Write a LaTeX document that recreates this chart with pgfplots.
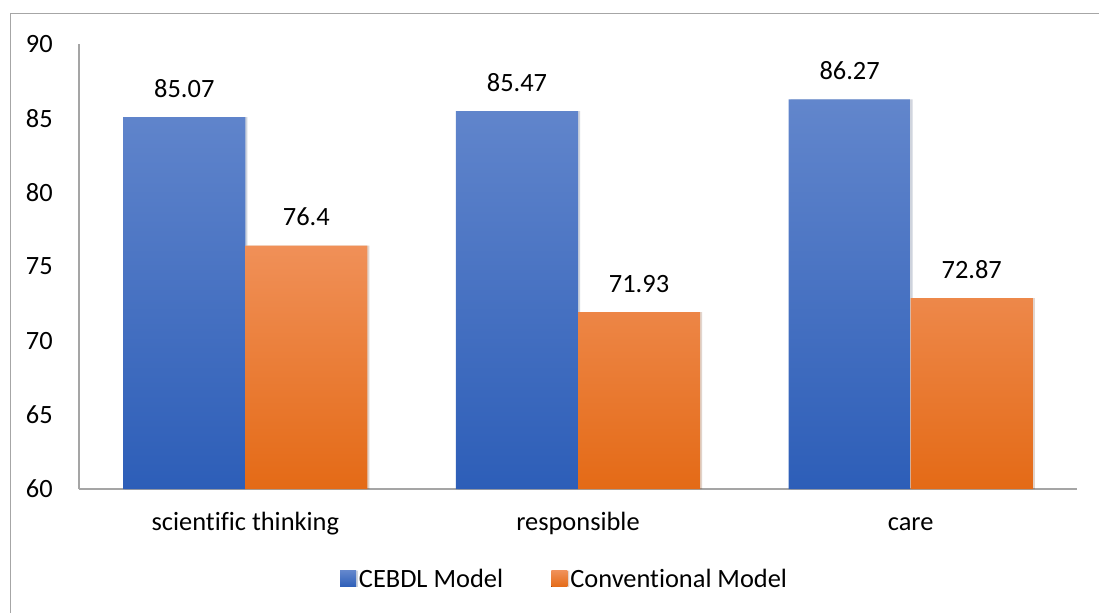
\documentclass[border=0pt]{standalone}
\usepackage{pgfplots}
\pgfplotsset{compat=1.18}
\usepackage{fontspec}
\setmainfont{Carlito}[Ligatures=CommonOff]
\definecolor{bluetop}{RGB}{98,134,204}
\definecolor{bluebot}{RGB}{45,94,184}
\definecolor{orgtop}{RGB}{240,144,88}
\definecolor{orgbot}{RGB}{228,106,22}
\definecolor{framegray}{RGB}{166,166,166}
\definecolor{axisgray}{RGB}{165,165,165}
\begin{document}
\begin{tikzpicture}[font=\fontsize{19.8}{24}\selectfont]
\clip (0pt,0pt) rectangle (824.25pt,459pt);
\draw[framegray, line width=1.1pt] (7.9pt,449pt) rectangle (900pt,-50pt);
\begin{axis}[
  at={(59.25pt,92.25pt)}, anchor=south west,
  scale only axis, width=748.5pt, height=333.75pt,
  ybar=0pt, bar width=0.367,
  xmin=-0.5, xmax=2.5, ymin=60, ymax=90,
  xtick={0,1,2}, xticklabels={scientific thinking, responsible, care},
  ytick={60,65,...,90},
  axis x line=bottom, axis y line=left,
  axis line style={axisgray, line width=1.1pt, -},
  major tick length=0pt,
  xticklabel style={anchor=base, inner sep=0pt, yshift=-30.75pt},
  yticklabel style={anchor=east, inner sep=0pt, xshift=-19.5pt},
  /pgf/number format/assume math mode=true,
  nodes near coords, point meta=explicit symbolic,
  nodes near coords style={anchor=base, inner sep=0pt, yshift=15pt, black},
  legend columns=2,
  legend style={at={(0.487,-0.202)}, anchor=center, draw=none, fill=none,
    /tikz/every even column/.append style={column sep=34pt},
    nodes={inner sep=2.2pt}},
  legend image code/.code={\fill[#1] (0pt,-6pt) rectangle (12pt,6pt);},
  every axis plot/.append style={preaction={fill=black, fill opacity=0.12, transform canvas={xshift=1.5pt}}},
]
\addplot[draw=none, top color=bluetop, bottom color=bluebot] table[x=x,y=y,meta=l]{
x y l
0 85.07 85.07
1 85.47 85.47
2 86.27 86.27
};
\addplot[draw=none, top color=orgtop, bottom color=orgbot] table[x=x,y=y,meta=l]{
x y l
0 76.4 76.4
1 71.93 71.93
2 72.87 72.87
};
\legend{CEBDL Model, Conventional Model}
\end{axis}
\end{tikzpicture}
\end{document}
